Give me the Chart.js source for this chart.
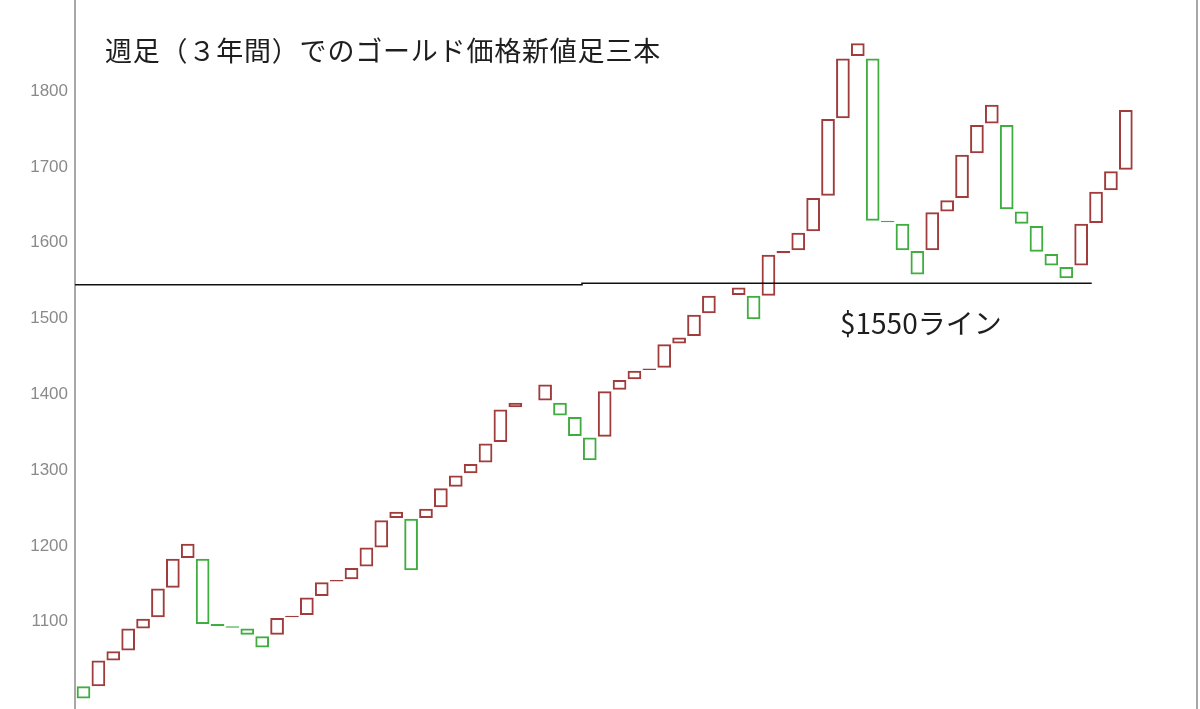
<!DOCTYPE html>
<html lang="ja">
<head>
<meta charset="utf-8">
<title>週足（３年間）でのゴールド価格新値足三本</title>
<script src="https://cdn.jsdelivr.net/npm/chart.js@4"></script>
<style>
  html, body { margin: 0; padding: 0; background: #fff; }
  #wrap { position: relative; width: 1200px; height: 709px; overflow: hidden; }
  #gold-chart { display: block; }
  .note {
    position: absolute;
    font-family: "Noto Sans CJK JP", "Noto Sans", sans-serif;
    color: #1e1e1e;
    line-height: 1;
    white-space: nowrap;
  }
  #title { left: 105px; top: 36px; font-size: 27px; letter-spacing: 0.8px; }
  #line-label { left: 840px; top: 308px; font-size: 28px; }
</style>
</head>
<body>
<div id="wrap">
  <canvas id="gold-chart" width="1200" height="709"></canvas>
  <div class="note" id="title">週足（３年間）でのゴールド価格新値足三本</div>
  <div class="note" id="line-label">$1550ライン</div>
</div>

<script>
// --- Data ---
// Each box runs from its open price to its close price (USD/oz).
// null = empty slot in the original chart.
const openPrices = [
  1015, 1015, 1049, 1062, 1091, 1106, 1145, 1184, 1183, 1097,
  1094, 1091, 1081, 1083, 1106, 1109, 1134, 1153, 1156, 1173,
  1198, 1237, 1236, 1237, 1251, 1278, 1296, 1310, 1337, 1383,
  null, 1392, 1389, 1370, 1343, 1344, 1406, 1420, 1432, 1435,
  1467, 1477, 1507, null, 1531, 1530, 1530, 1586, 1590, 1615,
  1662, 1764, 1846, 1843, 1629, 1625, 1589, 1590, 1641, 1659,
  1718, 1757, 1755, 1641, 1622, 1585, 1568, 1570, 1626, 1669,
  1696
];
const closePrices = [
  999, 1049, 1061, 1091, 1104, 1144, 1183, 1203, 1097, 1094,
  1092, 1083, 1066, 1105, 1108, 1132, 1152, 1155, 1171, 1198,
  1234, 1245, 1168, 1249, 1276, 1293, 1308, 1335, 1380, 1389,
  null, 1413, 1372, 1345, 1313, 1404, 1419, 1431, 1434, 1466,
  1475, 1505, 1530, null, 1541, 1499, 1584, 1589, 1613, 1659,
  1763, 1843, 1863, 1629, 1627, 1590, 1558, 1640, 1656, 1716,
  1755, 1782, 1644, 1625, 1588, 1570, 1553, 1625, 1667, 1694,
  1775
];

// the hand-drawn $1550 line (it has a small step in the middle)
const lineSlots = [-0.57, 33.48, 33.48, 67.71];
const lineLevels = [1544.5, 1544.5, 1546.5, 1546.5];

const yTicks = [1100, 1200, 1300, 1400, 1500, 1600, 1700, 1800];

const UP_COLOR = '#a03c3c';
const DOWN_COLOR = '#40ad40';

// --- Build datasets ---
const boxes = [];
openPrices.forEach((o, i) => {
    if (o === null || closePrices[i] === null) return;
    boxes.push({ x: i, y: [o, closePrices[i]] });
});

const linePoints = lineSlots.map((x, i) => ({ x: x, y: lineLevels[i] }));

// axes fill the whole canvas height, no room kept for edge labels
function noEdgePadding(scale) {
    scale.paddingTop = 0;
    scale.paddingBottom = 0;
}

const ctx = document.getElementById('gold-chart').getContext('2d');
const goldChart = new Chart(ctx, {
    type: 'bar',
    data: {
        datasets: [
            {
                type: 'line',
                label: '$1550ライン',
                data: linePoints,
                borderColor: '#111',
                borderWidth: 1.6,
                pointRadius: 0,
                tension: 0,
                order: 0
            },
            {
                label: '新値足',
                data: boxes,
                backgroundColor: 'rgba(255,255,255,0)',
                borderColor: (c) => {
                    const v = c.raw && c.raw.y;
                    if (!v) return UP_COLOR;
                    return v[1] >= v[0] ? UP_COLOR : DOWN_COLOR;
                },
                borderWidth: 2,
                borderSkipped: false,
                barPercentage: 0.92,
                categoryPercentage: 1,
                order: 1
            }
        ]
    },
    options: {
        responsive: false,
        animation: false,
        layout: { padding: 0 },
        plugins: {
            legend: { display: false },
            tooltip: { enabled: false }
        },
        scales: {
            x: {
                type: 'linear',
                display: false,
                offset: false,
                min: -0.571,
                max: 74.78
            },
            y: {
                position: 'left',
                min: 985,
                max: 1920,
                grid: { display: false, drawTicks: false },
                border: { display: true, color: '#a8a8a8', width: 2 },
                ticks: {
                    color: '#8a8a8a',
                    padding: 7,
                    font: { family: 'Liberation Sans', size: 17 },
                    callback: (v) => String(v)
                },
                afterBuildTicks: (scale) => {
                    scale.ticks = yTicks.map(v => ({ value: v }));
                },
                afterFit: (scale) => {
                    scale.width = 75;
                    noEdgePadding(scale);
                }
            },
            yRight: {
                position: 'right',
                min: 985,
                max: 1920,
                grid: { display: false, drawTicks: false },
                border: { display: true, color: '#a8a8a8', width: 2 },
                ticks: { display: false },
                afterFit: (scale) => {
                    scale.width = 3;
                    noEdgePadding(scale);
                }
            }
        }
    }
});
</script>
</body>
</html>
